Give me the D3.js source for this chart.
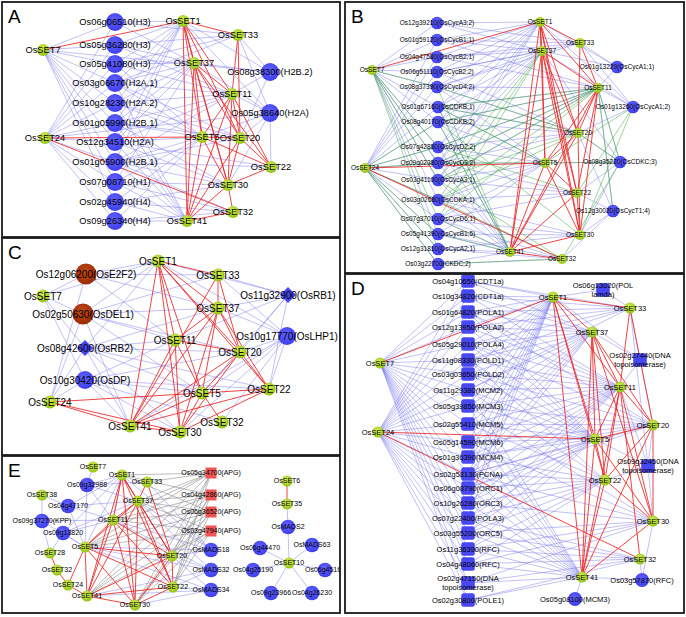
<!DOCTYPE html>
<html><head><meta charset="utf-8">
<script src="https://cdn.jsdelivr.net/npm/d3@7"></script>
<style>body{margin:0;background:#fff}svg{display:block}text{font-family:"Liberation Sans",Arial,sans-serif}</style>
</head><body><svg id="c" width="686" height="617"></svg>
<script>
// ---------------- DATA ----------------
// Panel A: histone genes
const setsA = ["OsSET1","OsSET33","OsSET7","OsSET37","OsSET11","OsSET24","OsSET5","OsSET20","OsSET22","OsSET30","OsSET32","OsSET41"];
const genesA = [["h1","Os06g06510(H3)"],["h2","Os05g36280(H3)"],["h3","Os05g41080(H3)"],["h4","Os03g06670(H2A.1)"],["h5","Os10g28230(H2A.2)"],["h6","Os01g05990(H2B.1)"],["h7","Os12g34510(H2A)"],["h8","Os01g05900(H2B.1)"],["h9","Os07g08710(H1)"],["h10","Os02g45940(H4)"],["h11","Os09g26340(H4)"],["h12","Os08g38300(H2B.2)"],["h13","Os05g38640(H2A)"]];
const blueA = [["S7","h1 h2 h3 h4 h5 h6 h7 h8 h9 h10 h12"],["S24","h1 h2 h3 h4 h5 h6 h7 h8 h9 h10 h11 h13"],["S1","h1 h2 h3 h4 h5 h6 h7 h8 h12 h13"],["S33","h1 h2 h3 h4 h12 h13"],["S37","h1 h2 h3 h4 h5 h6 h7 h9 h12 h13"],["S11","h2 h3 h4 h5 h6 h7 h8 h12 h13"],["S5","h3 h4 h5 h6 h7 h8 h9 h10 h11 h13"],["S20","h4 h5 h6 h8 h12 h13"],["S22","h7 h8 h13"],["S30","h6 h7 h8 h9 h10 h13"],["S32","h8 h9 h10 h11"],["S41","h4 h5 h6 h7 h8 h9 h10 h11"]];
const redA = [["S7","S1"],["S1","S33 S37 S11 S5 S20 S41 S30"],["S33","S11 S20"],["S37","S11 S5 S20 S22 S30 S41"],["S11","S5 S20 S22 S30 S41"],["S24","S5 S32"],["S5","S20 S30 S41 S22"],["S20","S30 S41 S22"],["S30","S41 S32"],["S22","S30"],["S32","S41"]];

// Panel B: cyclins / CDKs
const setsB = ["OsSET1","OsSET33","OsSET37","OsSET7","OsSET11","OsSET20","OsSET24","OsSET5","OsSET22","OsSET30","OsSET41","OsSET32"];
const genesB = [["c1","Os12g39210(OsCycA3;2)"],["c2","Os01g59120(OsCycB1;1)"],["c3","Os04g47580(OsCycB2;1)"],["c4","Os06g51110(OsCycB2;2)"],["c5","Os08g37390(OsCycD4;2)"],["c6","Os01g67160(OsCDKB;1)"],["c7","Os08g40170(OsCDKB;2)"],["c8","Os07g42880(OsCycD2;2)"],["c9","Os09g02380(OsCycD3;2)"],["c10","Os03g41100(OsCycA3;1)"],["c11","Os03g02680(OsCDKA;1)"],["c12","Os07g37010(OsCycD6;1)"],["c13","Os05g41390(OsCycB1;5)"],["c14","Os12g31810(OsCycA2;1)"],["c15","Os03g22700(CKDC;2)"],["c16","Os01g13229(OsCycA1;1)"],["c17","Os01g13260(OsCycA1;2)"],["c18","Os08g35220(OsCDKC;3)"],["c19","Os12g30020(OsCycT1;4)"]];
const blueB = [["S7","c1 c2 c3 c4 c5 c6 c7 c8 c9 c10 c11 c13"],["S24","c2 c3 c4 c5 c6 c7 c8 c9 c10 c11 c12 c13 c14 c15"],["S1","c1 c2 c3 c4 c5 c6 c7 c8 c9 c10 c16 c17"],["S33","c1 c2 c3 c4 c5 c16 c17"],["S37","c1 c2 c3 c4 c5 c6 c7 c8 c9 c16 c17 c18"],["S11","c2 c3 c5 c6 c7 c8 c9 c10 c16 c17 c18 c19"],["S20","c4 c5 c6 c7 c8 c9 c17 c18 c19"],["S5","c5 c6 c7 c8 c9 c10 c11 c12 c13 c18"],["S22","c9 c10 c11 c12 c18 c19"],["S30","c11 c12 c13 c14 c18 c19"],["S41","c6 c7 c8 c9 c10 c11 c12 c13 c14 c15"],["S32","c12 c13 c14 c15 c19"]];
const greenB = [["S7","c5 c8 c9 c10 c12 c14"],["S24","c7 c8 c9 c11 c13 c14 c15"],["S11","c6 c7 c8 c9 c10 c11 c12 c18 c19"],["S20","c5 c6 c10 c11 c18"],["S41","c5 c6 c7 c12 c13"],["S32","c10 c11 c15 c18"],["S5","c6 c9 c17 c18"],["S22","c8 c17"],["S37","c10 c11 c12"],["S30","c7 c17"]];
const redB = [["S7","S1"],["S1","S33 S37 S11 S20 S5 S41 S22 S30"],["S33","S11 S20"],["S37","S11 S20 S5 S41 S22 S30"],["S11","S20 S5 S41 S22 S30"],["S20","S5 S41 S30"],["S24","S5 S32"],["S5","S41 S22 S30"],["S22","S41 S30"],["S30","S41"],["S41","S32"]];

// Panel C: E2F / RB
const setsC = ["OsSET1","OsSET33","OsSET7","OsSET37","OsSET11","OsSET20","OsSET24","OsSET5","OsSET22","OsSET41","OsSET30","OsSET32"];
const genesC = [["e1","Os12g06200(OsE2F2)","brown"],["e2","Os02g50630(OsDEL1)","brown"],["e3","Os11g32900(OsRB1)","diamond"],["e4","Os10g17770(OsLHP1)","gene"],["e5","Os08g42600(OsRB2)","diamond"],["e6","Os10g30420(OsDP)","gene"]];
const blueC = [["S1","e1 e2 e3 e4 e5"],["S33","e1 e2 e3 e4"],["S7","e1 e2 e5 e6 S1"],["S37","e1 e2 e3 e4 e5"],["S11","e1 e2 e3 e5 e6"],["S20","e2 e3 e4 e5 e6"],["S24","e1 e2 e5 e6"],["S5","e2 e3 e4 e5 e6"],["S22","e3 e4 e5 e6"],["S41","e2 e4 e5 e6"],["S30","e4 e5 e6"],["S32","e4 e6"]];
const redC = [["S1","S33 S37 S11 S5 S20 S41 S30 S22"],["S33","S37 S20 S41"],["S37","S11 S20 S5 S41 S30 S22"],["S11","S5 S20 S41 S30"],["S20","S5 S41 S30 S22"],["S24","S5 S41 S30"],["S5","S41 S30 S32 S22"],["S41","S30 S22"],["S30","S22"]];

// Panel D: DNA replication
const setsD = ["OsSET1","OsSET33","OsSET37","OsSET7","OsSET11","OsSET20","OsSET24","OsSET5","OsSET22","OsSET30","OsSET32","OsSET41"];
const genesD = [["d1","Os04g10650(CDT1a)","square"],["d2","Os10g34820(CDT1a)","square"],["d3","Os01g64820(POLA1)","square"],["d4","Os12g13950(POLA2)","square"],["d5","Os05g29010(POLA4)","square"],["d6","Os11g08330(POLD1)","square"],["d7","Os03g03650(POLD2)","square"],["d8","Os11g29380(MCM2)","square"],["d9","Os05g39850(MCM3)","square"],["d10","Os02g55410(MCM5)","square"],["d11","Os05g14590(MCM6)","square"],["d12","Os01g36390(MCM4)","square"],["d13","Os02g58130(PCNA)","square"],["d14","Os06g08790(ORC1)","square"],["d15","Os10g26280(ORC3)","square"],["d16","Os07g22400(POLA3)","square"],["d17","Os03g55200(ORC5)","square"],["d18","Os11g36390(RFC)","square"],["d19","Os04g48060(RFC)","square"],["d20","Os02g47150(DNA|topoisomerase)","square"],["d21","Os02g30800(POLE1)","square"],["d22","Os06g13020(POL|lamda)","square"],["d23","Os02g27440(DNA|topoisomerase)","square"],["d24","Os09g32450(DNA|topoisomerase)","square"],["d25","Os03g57870(RFC)","gene"],["d26","Os05g08100(MCM3)","gene"]];
const blueD = [["S7","d1 d2 d3 d4 d5 d6 d7 d8 d9 d10 d11 d12 d13 d14 d15 d16 d17 d18 d19 d20 d21"],["S24","d1 d2 d3 d4 d5 d6 d7 d8 d9 d10 d11 d12 d13 d14 d15 d16 d17 d18 d19 d20 d21"],["S1","d1 d2 d3 d4 d5 d6 d7 d8 d9 d10 d11 d12 d13 d14 d15 d16 d22 d23"],["S33","d1 d2 d3 d4 d5 d6 d8 d22 d23 d24"],["S37","d1 d2 d3 d4 d5 d6 d7 d8 d9 d10 d11 d12 d13 d14 d23"],["S11","d2 d3 d4 d5 d6 d7 d8 d9 d10 d11 d12 d13 d14 d15 d16 d17 d23 d24"],["S20","d3 d5 d7 d9 d10 d11 d12 d13 d14 d23 d24"],["S5","d3 d4 d5 d6 d7 d8 d9 d10 d11 d12 d13 d14 d15 d16 d17 d18 d24"],["S22","d6 d8 d10 d12 d13 d14 d15 d16 d17 d18 d19 d24"],["S30","d9 d11 d13 d15 d17 d18 d19 d20 d24 d25"],["S32","d16 d17 d18 d19 d20 d21 d25"],["S41","d8 d9 d10 d11 d12 d13 d14 d15 d16 d17 d18 d19 d20 d21 d25 d26"]];
const redD = [["S7","S1"],["S1","S33 S37 S11 S5 S22 S41"],["S33","S11 S20"],["S37","S11 S5 S22 S30 S41 S20"],["S11","S20 S5 S22 S30 S41 S32"],["S24","S5 S32"],["S5","S20 S22 S41 S30"],["S20","S30 S41 S22"],["S22","S41 S30"],["S30","S41"]];

// Panel E: APG / MADS
const setsE = ["OsSET7","OsSET1","OsSET33","OsSET38","OsSET37","OsSET11","OsSET5","OsSET28","OsSET20","OsSET32","OsSET24","OsSET22","OsSET41","OsSET30","OsSET6","OsSET35","OsSET10"];
const genesE = [["b1","Os09g32988","gene"],["b2","Os04g47170","gene"],["b3","Os09g37270(KPP)","gene"],["b4","Os09g13820","gene"],["a1","Os05g34700(APG)","apg"],["a2","Os04g42860(APG)","apg"],["a3","Os06g36520(APG)","apg"],["a4","Os03g47940(APG)","apg"],["m18","OsMADS18","gene"],["m32","OsMADS32","gene"],["m34","OsMADS34","gene"],["m2","OsMADS2","gene"],["g1","Os06g44470","gene"],["m63","OsMADS63","gene"],["g2","Os04g25190","gene"],["g3","Os06g45160","gene"],["g4","Os09g23966","gene"],["g5","Os04g26230","gene"]];
const blueE = [["b1","S7 S1 S33 S37 S11 S5"],["b2","S1 S37 S11 S5 S38"],["b3","S38 S28 S11 S5"],["b4","S1 S37 S11 S5 S28"],["m18","S1 S33 S37 S11 S5 S20"],["m32","S37 S11 S5 S20 S22 S41"],["m34","S5 S20 S22 S41 S30"],["S1","S11 S5 S20"],["S35","m2"],["m2","S10"],["S10","g1 m63 g2 g3 g4 g5"]];
const greyE = [["a1","S1 S33 S37 S11 S5 S20 S22 S41 S30"],["a2","S1 S37 S11 S5 S20 S22 S41 S30"],["a3","S1 S37 S11 S5 S20 S22 S41 S30"],["a4","S37 S11 S5 S20 S22 S41 S30"]];
const redE = [["S1","S37 S11 S20 S41 S30 S22"],["S33","S37 S20"],["S37","S11 S5 S20 S22 S41 S30"],["S11","S5 S20 S41 S30 S22"],["S5","S20 S22 S41 S30 S24"],["S20","S41 S30 S22"],["S22","S41 S30"],["S41","S30 S24"],["S28","S32"],["S32","S24"],["S6","S35"]];

// ---------------- LAYOUT (panel-local units) ----------------
const layoutA = {S1:[181,19],S33:[236,33],S7:[41,48],S37:[192,61],S11:[230,92],S24:[43,136],S5:[200,135],S20:[238,136],S22:[269,165],S30:[226,183],S32:[231,210],S41:[185,219],
 h1:[113,20],h2:[113,43],h3:[113,62],h4:[113,81],h5:[113,101],h6:[113,121],h7:[113,140],h8:[113,160],h9:[113,180],h10:[113,200],h11:[113,219],h12:[268,70],h13:[268,111]};
const layoutB = {S1:[195,20],S33:[235,41],S37:[197,49],S7:[27,68],S11:[253,86],S20:[233,131],S24:[20,166],S5:[200,161],S22:[232,191],S30:[235,233],S41:[165,250],S32:[217,257],
 c1:[92,21],c2:[92,38],c3:[92,55],c4:[92,70],c5:[92,85],c6:[93,105],c7:[93,120],c8:[93,145],c9:[93,161],c10:[93,178],c11:[93,198],c12:[93,217],c13:[93,232],c14:[93,247],c15:[93,262],c16:[272,65],c17:[288,105],c18:[275,160],c19:[268,209]};
const layoutC = {S1:[156,23],e1:[84,36],S33:[216,37],S7:[41,58],e3:[286,57],e2:[81,76],S37:[216,70],e4:[285,98],S11:[173,102],e5:[83,110],S20:[238,114],e6:[83,142],S24:[48,164],S5:[200,155],S22:[267,151],S41:[128,188],S30:[178,194],S32:[220,184]};
const layoutD = {S1:[208,23],d22:[258,16],S33:[285,34],S37:[247,58],d23:[295,86],S7:[35,89],S11:[275,113],S20:[308,151],S24:[33,158],S5:[250,165],d24:[303,192],S22:[260,206],S30:[308,247],S32:[295,285],S41:[237,303],d25:[297,306],d26:[230,325],
 d1:[123,7],d2:[123,22],d3:[123,38],d4:[123,53],d5:[123,70],d6:[123,86],d7:[123,100],d8:[123,116],d9:[123,132],d10:[123,150],d11:[123,168],d12:[123,183],d13:[123,200],d14:[123,214],d15:[123,229],d16:[123,244],d17:[123,259],d18:[123,275],d19:[123,290],d20:[123,309],d21:[123,326]};
const layoutE = {S7:[91,11],S1:[120,19],S33:[145,26],b1:[85,29],a1:[209,17],S38:[40,39],S6:[285,25],a2:[209,39],S37:[136,45],b2:[66,50],S35:[285,48],a3:[209,56],b3:[40,65],S11:[111,64],m2:[286,71],a4:[209,75],b4:[61,77],S5:[83,91],S28:[48,97],m18:[209,94],g1:[258,92],m63:[310,89],S20:[170,100],S10:[287,107],S32:[55,114],m32:[209,114],g2:[251,114],g3:[323,114],S24:[66,129],S22:[171,131],m34:[209,134],S41:[85,140],g4:[269,137],g5:[310,137],S30:[133,149]};

// ---------------- DRAW ----------------
const panels = [
 {id:"A",frame:[2,2,338,235],font:9.3,sets:setsA,genes:genesA,layout:layoutA,edges:[["blue",blueA],["red",redA]],r:{set:6,gene:9}},
 {id:"B",frame:[345,2,339,271],font:6.5,sets:setsB,genes:genesB,layout:layoutB,edges:[["blue",blueB],["green",greenB],["red",redB]],r:{set:5,gene:6.3}},
 {id:"C",frame:[2,238,338,217],font:10,sets:setsC,genes:genesC,layout:layoutC,edges:[["blue",blueC],["red",redC]],r:{set:6.5,gene:9,brown:10.5,diamond:8}},
 {id:"D",frame:[345,274,339,339],font:7.5,sets:setsD,genes:genesD,layout:layoutD,edges:[["blue",blueD],["red",redD]],r:{set:5.5,gene:7,square:6.8}},
 {id:"E",frame:[2,456,338,157],font:7,sets:setsE,genes:genesE,layout:layoutE,edges:[["blue",blueE],["grey",greyE],["red",redE]],r:{set:5.5,gene:7.3,apg:5.5}}
];
const edgeStyle = {
 blue:{c:"#7474ec",o:0.6,w:0.75},
 green:{c:"#3aa83a",o:0.7,w:0.7},
 grey:{c:"#8d8d8d",o:0.75,w:0.8},
 red:{c:"#ec2424",o:0.95,w:0.9}
};
const expand = list => list.flatMap(([s,t]) => t.split(" ").map(k => [s,k]));

const svg = d3.select("#c");
const defs = svg.append("defs");
function grad(id, c0, c1){
  const g = defs.append("radialGradient").attr("id",id).attr("cx","45%").attr("cy","40%").attr("r","62%");
  g.append("stop").attr("offset","0%").attr("stop-color",c0);
  g.append("stop").attr("offset","100%").attr("stop-color",c1);
}
grad("gGreen","#def55e","#8dc10a");
grad("gBlue","#6464ff","#3c3cee");
grad("gBrown","#bf4a18","#9a2a05");

panels.forEach(p => {
  const [x0,y0,w,h] = p.frame;
  const x = d3.scaleLinear().domain([0,w]).range([x0,x0+w]);
  const y = d3.scaleLinear().domain([0,h]).range([y0,y0+h]);
  defs.append("clipPath").attr("id","clip"+p.id).append("rect").attr("x",x0).attr("y",y0).attr("width",w).attr("height",h);
  const g = svg.append("g").attr("clip-path",`url(#clip${p.id})`);
  const P = k => [x(p.layout[k][0]), y(p.layout[k][1])];

  p.edges.forEach(([type,list]) => {
    const st = edgeStyle[type];
    g.append("g").selectAll("line").data(expand(list)).join("line")
      .attr("x1",d=>P(d[0])[0]).attr("y1",d=>P(d[0])[1])
      .attr("x2",d=>P(d[1])[0]).attr("y2",d=>P(d[1])[1])
      .attr("stroke",st.c).attr("stroke-opacity",st.o).attr("stroke-width",st.w);
  });

  const nodes = p.sets.map(n => ({key:n.replace("OsSET","S"), label:n, kind:"set"}))
    .concat(p.genes.map(([k,l,kind]) => ({key:k, label:l, kind:kind||"gene"})));

  const ng = g.append("g");
  nodes.forEach(n => {
    const [cx,cy] = P(n.key);
    const r = p.r[n.kind];
    if (n.kind==="set") ng.append("circle").attr("cx",cx).attr("cy",cy).attr("r",r).attr("fill","url(#gGreen)");
    else if (n.kind==="gene") ng.append("circle").attr("cx",cx).attr("cy",cy).attr("r",r).attr("fill","url(#gBlue)");
    else if (n.kind==="brown") ng.append("circle").attr("cx",cx).attr("cy",cy).attr("r",r).attr("fill","url(#gBrown)");
    else if (n.kind==="diamond") ng.append("path").attr("d",`M${cx},${cy-r}L${cx+r},${cy}L${cx},${cy+r}L${cx-r},${cy}Z`).attr("fill","#4646f0");
    else if (n.kind==="square") ng.append("rect").attr("x",cx-r).attr("y",cy-r).attr("width",2*r).attr("height",2*r).attr("rx",2.5).attr("fill","#4848f2");
    else if (n.kind==="apg") ng.append("rect").attr("x",cx-r).attr("y",cy-r).attr("width",2*r).attr("height",2*r).attr("fill","#f05555");
  });

  const lg = g.append("g").attr("font-size",p.font).attr("fill","#000").attr("text-anchor","middle");
  nodes.forEach(n => {
    const [cx,cy] = P(n.key);
    const lines = n.label.split("|");
    const lh = p.font*1.15;
    const t = lg.append("text").attr("x",cx).attr("y",cy - (lines.length-1)*lh/2).attr("dy","0.35em");
    lines.forEach((s,i) => t.append("tspan").attr("x",cx).attr("dy", i===0 ? "0.35em" : lh).text(s));
  });

  svg.append("rect").attr("x",x0).attr("y",y0).attr("width",w).attr("height",h)
    .attr("fill","none").attr("stroke","#1a1a1a").attr("stroke-width",1.8);
  svg.append("text").attr("x",x(6)).attr("y",y(21)).attr("font-size",19).attr("fill","#000").text(p.id);
});
</script>
</body></html>
